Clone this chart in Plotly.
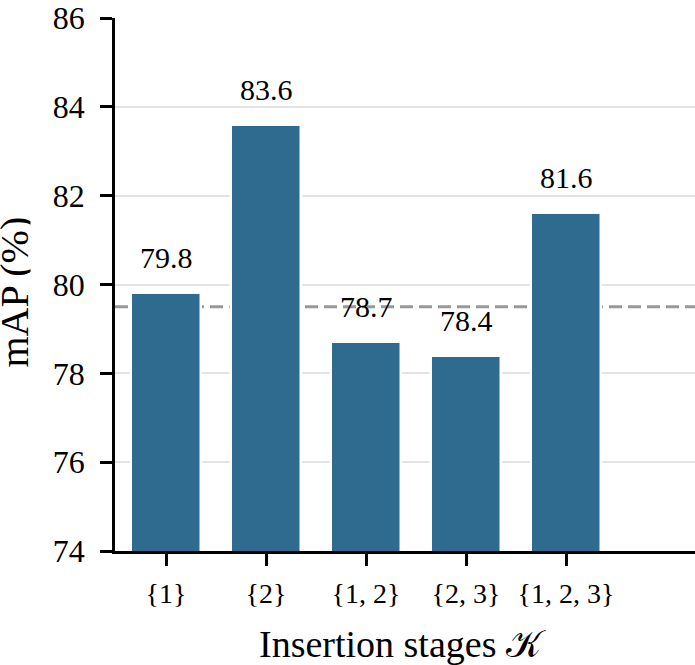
import plotly.graph_objects as go

categories = ["{1}", "{2}", "{1, 2}", "{2, 3}", "{1, 2, 3}"]
values = [79.8, 83.6, 78.7, 78.4, 81.6]
labels = ["79.8", "83.6", "78.7", "78.4", "81.6"]
baseline = 79.5
y_ticks = [74, 76, 78, 80, 82, 84, 86]

FONT = "Liberation Serif"
BAR = "#2e6b8f"

fig = go.Figure()
fig.add_trace(go.Bar(
    x=list(range(len(categories))), y=values,
    width=0.7,
    marker=dict(color=BAR, line=dict(color="white", width=2.5)),
    hoverinfo="skip",
))

for i, (v, t) in enumerate(zip(values, labels)):
    fig.add_annotation(x=i, y=v, text=t, showarrow=False, yanchor="bottom",
                       yshift=17, font=dict(family=FONT, size=30, color="black"))

fig.add_shape(type="line", xref="paper", x0=0, x1=1, yref="y", y0=baseline, y1=baseline,
              line=dict(color="#999999", width=3, dash="13px,6px"), layer="below")

fig.update_layout(
    width=695, height=665,
    margin=dict(l=115, r=0, t=13, b=114),
    plot_bgcolor="white", paper_bgcolor="white",
    showlegend=False,
    font=dict(family=FONT, color="black"),
    bargap=0,
)
fig.update_xaxes(
    range=[-0.51, 5.29],
    tickmode="array", tickvals=list(range(len(categories))), ticktext=categories,
    tickfont=dict(family=FONT, size=28),
    ticklabelstandoff=4,
    ticks="outside", ticklen=12, tickwidth=2.5, tickcolor="black",
    showline=True, linecolor="black", linewidth=2.5,
    showgrid=False, zeroline=False,
)
fig.update_yaxes(
    range=[74, 86],
    tickmode="array", tickvals=y_ticks, ticktext=[str(t) for t in y_ticks],
    tickfont=dict(family=FONT, size=32),
    ticklabeloverflow="allow",
    ticklabelstandoff=9,
    ticks="outside", ticklen=12, tickwidth=2.5, tickcolor="black",
    showline=True, linecolor="black", linewidth=2.5,
    showgrid=True, gridcolor="#e3e3e3", gridwidth=1.5,
    zeroline=False,
)
fig.add_annotation(x=0.5, y=0, xref="paper", yref="paper", yshift=-70, xshift=-3, yanchor="top",
                   text="Insertion stages 𝒦", showarrow=False,
                   font=dict(family=FONT, size=38, color="black"))
fig.add_annotation(x=0, y=0.5, xref="paper", yref="paper", xshift=-101, yshift=-8, xanchor="center",
                   text="mAP (%)", textangle=-90, showarrow=False, height=32,
                   font=dict(family=FONT, size=40, color="black"))

fig.write_html("out.html")
